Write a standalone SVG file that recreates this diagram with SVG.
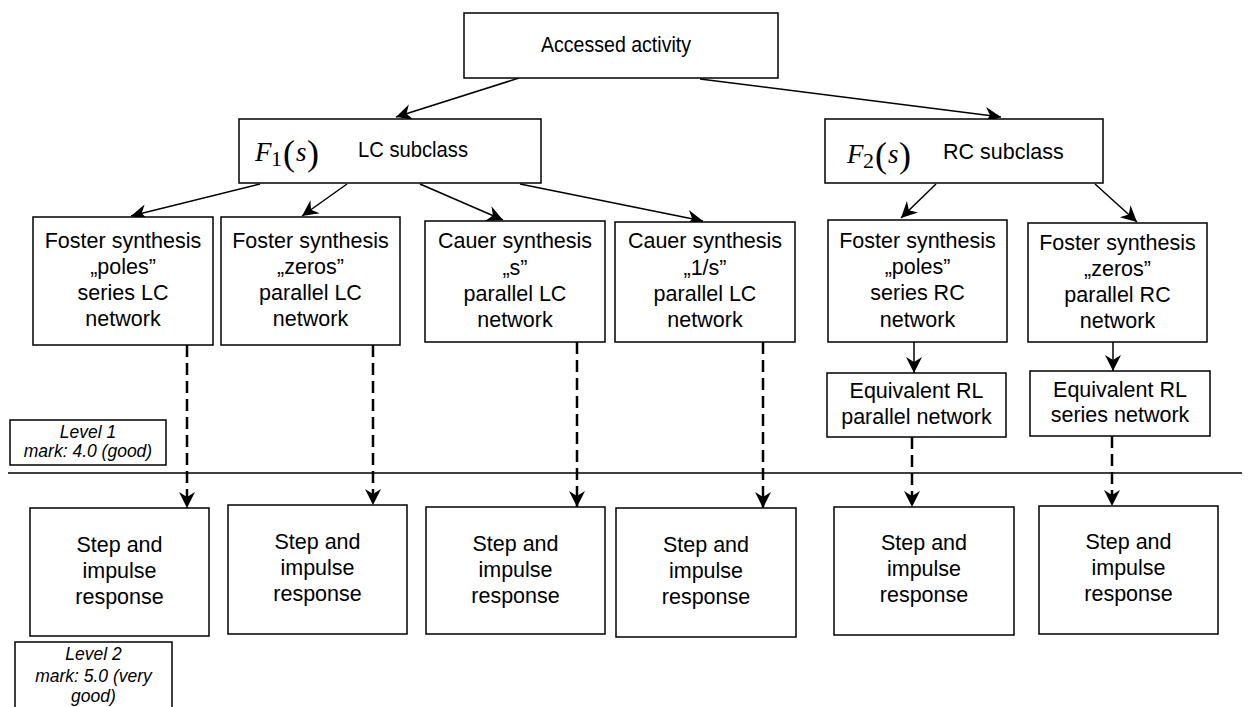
<svg xmlns="http://www.w3.org/2000/svg" width="1248" height="707" viewBox="0 0 1248 707">
<defs>
<style>
.box{fill:#fff;stroke:#000;stroke-width:1.5}
.t{font-family:"Liberation Sans",Arial,sans-serif;font-size:21.5px;fill:#000;text-anchor:middle}
.lv{font-family:"Liberation Sans",Arial,sans-serif;font-size:17.5px;font-style:italic;fill:#000;text-anchor:middle}
.m{font-family:"Liberation Serif","Times New Roman",serif;fill:#000}
.c{fill:none;stroke:#000;stroke-width:1.5}
.d{fill:none;stroke:#000;stroke-width:2.5;stroke-dasharray:12 6}
</style>
<marker id="ah" markerUnits="userSpaceOnUse" markerWidth="20" markerHeight="20" viewBox="-18 -10 20 20" refX="0" refY="0" orient="auto">
<path d="M0,0 L-16,-8 L-11,0 L-16,8 Z" fill="#000"/>
</marker>
</defs>
<rect width="1248" height="707" fill="#fff"/>

<g id="connectors">
<line class="c" x1="519" y1="78" x2="396" y2="117" marker-end="url(#ah)"/>
<line class="c" x1="700" y1="79" x2="1001" y2="117" marker-end="url(#ah)"/>
<line class="c" x1="260" y1="184" x2="131" y2="216" marker-end="url(#ah)"/>
<line class="c" x1="347" y1="184" x2="302" y2="216" marker-end="url(#ah)"/>
<line class="c" x1="420" y1="184" x2="503" y2="220" marker-end="url(#ah)"/>
<line class="c" x1="520" y1="184" x2="703" y2="221" marker-end="url(#ah)"/>
<line class="c" x1="936" y1="184" x2="901" y2="218" marker-end="url(#ah)"/>
<line class="c" x1="1095" y1="184" x2="1137" y2="222" marker-end="url(#ah)"/>
<line class="c" x1="914" y1="342" x2="914" y2="373" marker-end="url(#ah)"/>
<line class="c" x1="1113" y1="342" x2="1113" y2="371" marker-end="url(#ah)"/>
<line class="d" x1="187" y1="345" x2="187" y2="508" marker-end="url(#ah)"/>
<line class="d" x1="373" y1="345" x2="373" y2="505" marker-end="url(#ah)"/>
<line class="d" x1="577" y1="342" x2="577" y2="507" marker-end="url(#ah)"/>
<line class="d" x1="763" y1="342" x2="763" y2="508" marker-end="url(#ah)"/>
<line class="d" x1="912" y1="437" x2="912" y2="507" marker-end="url(#ah)"/>
<line class="d" x1="1112" y1="436" x2="1112" y2="506" marker-end="url(#ah)"/>
</g>

<line id="level-divider" x1="8" y1="473" x2="1242" y2="473" stroke="#000" stroke-width="1.5"/>

<g id="accessed">
<rect class="box" x="464" y="13" width="314" height="65"/>
<text class="t" x="616" y="52" textLength="150" lengthAdjust="spacingAndGlyphs">Accessed activity</text>
</g>

<g id="lc-subclass">
<rect class="box" x="239" y="119" width="302" height="64"/>
<text class="m" y="161"><tspan x="255" font-size="27" font-style="italic">F</tspan><tspan x="271" y="166" font-size="22">1</tspan><tspan x="283" y="165" font-size="36">(</tspan><tspan x="296" y="161" font-size="27" font-style="italic">s</tspan><tspan x="307" y="165" font-size="36">)</tspan></text>
<text class="t" x="358" y="157" style="text-anchor:start" textLength="110" lengthAdjust="spacingAndGlyphs">LC subclass</text>
</g>

<g id="rc-subclass">
<rect class="box" x="825" y="119" width="278" height="64"/>
<text class="m" y="163"><tspan x="847" font-size="27" font-style="italic">F</tspan><tspan x="863" y="168" font-size="22">2</tspan><tspan x="875" y="167" font-size="36">(</tspan><tspan x="888" y="163" font-size="27" font-style="italic">s</tspan><tspan x="899" y="167" font-size="36">)</tspan></text>
<text class="t" x="943" y="159" style="text-anchor:start">RC subclass</text>
</g>

<g id="foster-poles-lc">
<rect class="box" x="33" y="217" width="180" height="128"/>
<text class="t" x="123" y="248">Foster synthesis</text>
<text class="t" x="123" y="274">„poles”</text>
<text class="t" x="123" y="300">series LC</text>
<text class="t" x="123" y="326">network</text>
</g>

<g id="foster-zeros-lc">
<rect class="box" x="221" y="217" width="179" height="128"/>
<text class="t" x="310.5" y="248">Foster synthesis</text>
<text class="t" x="310.5" y="274">„zeros”</text>
<text class="t" x="310.5" y="300">parallel LC</text>
<text class="t" x="310.5" y="326">network</text>
</g>

<g id="cauer-s-lc">
<rect class="box" x="425" y="221" width="180" height="121"/>
<text class="t" x="515" y="248">Cauer synthesis</text>
<text class="t" x="515" y="275">„s”</text>
<text class="t" x="515" y="301">parallel LC</text>
<text class="t" x="515" y="327">network</text>
</g>

<g id="cauer-1s-lc">
<rect class="box" x="615" y="222" width="180" height="120"/>
<text class="t" x="705" y="248">Cauer synthesis</text>
<text class="t" x="705" y="275">„1/s”</text>
<text class="t" x="705" y="301">parallel LC</text>
<text class="t" x="705" y="327">network</text>
</g>

<g id="foster-poles-rc">
<rect class="box" x="828" y="220" width="179" height="122"/>
<text class="t" x="917.5" y="248">Foster synthesis</text>
<text class="t" x="917.5" y="274">„poles”</text>
<text class="t" x="917.5" y="300">series RC</text>
<text class="t" x="917.5" y="327">network</text>
</g>

<g id="foster-zeros-rc">
<rect class="box" x="1028" y="223" width="179" height="119"/>
<text class="t" x="1117.5" y="250">Foster synthesis</text>
<text class="t" x="1117.5" y="276">„zeros”</text>
<text class="t" x="1117.5" y="302">parallel RC</text>
<text class="t" x="1117.5" y="328">network</text>
</g>

<g id="equiv-rl-parallel">
<rect class="box" x="827" y="373" width="179" height="64"/>
<text class="t" x="916.5" y="398">Equivalent RL</text>
<text class="t" x="916.5" y="424">parallel network</text>
</g>

<g id="equiv-rl-series">
<rect class="box" x="1030" y="371" width="180" height="65"/>
<text class="t" x="1120" y="397">Equivalent RL</text>
<text class="t" x="1120" y="422">series network</text>
</g>

<g id="level1">
<rect class="box" x="10" y="420" width="156" height="45"/>
<text class="lv" x="88" y="438">Level 1</text>
<text class="lv" x="88" y="457">mark: 4.0 (good)</text>
</g>

<g id="step1">
<rect class="box" x="30" y="508" width="179" height="128"/>
<text class="t" x="119.5" y="552">Step and</text>
<text class="t" x="119.5" y="578">impulse</text>
<text class="t" x="119.5" y="604">response</text>
</g>
<g id="step2">
<rect class="box" x="228" y="505" width="179" height="129"/>
<text class="t" x="317.5" y="549">Step and</text>
<text class="t" x="317.5" y="575">impulse</text>
<text class="t" x="317.5" y="601">response</text>
</g>
<g id="step3">
<rect class="box" x="426" y="507" width="179" height="127"/>
<text class="t" x="515.5" y="551">Step and</text>
<text class="t" x="515.5" y="577">impulse</text>
<text class="t" x="515.5" y="603">response</text>
</g>
<g id="step4">
<rect class="box" x="616" y="508" width="180" height="129"/>
<text class="t" x="706" y="552">Step and</text>
<text class="t" x="706" y="578">impulse</text>
<text class="t" x="706" y="604">response</text>
</g>
<g id="step5">
<rect class="box" x="834" y="507" width="180" height="128"/>
<text class="t" x="924" y="550">Step and</text>
<text class="t" x="924" y="576">impulse</text>
<text class="t" x="924" y="602">response</text>
</g>
<g id="step6">
<rect class="box" x="1039" y="506" width="179" height="128"/>
<text class="t" x="1128.5" y="549">Step and</text>
<text class="t" x="1128.5" y="575">impulse</text>
<text class="t" x="1128.5" y="601">response</text>
</g>

<g id="level2">
<rect class="box" x="15" y="642" width="157" height="70"/>
<text class="lv" x="93.5" y="660">Level 2</text>
<text class="lv" x="93.5" y="682">mark: 5.0 (very</text>
<text class="lv" x="93.5" y="702">good)</text>
</g>
</svg>
